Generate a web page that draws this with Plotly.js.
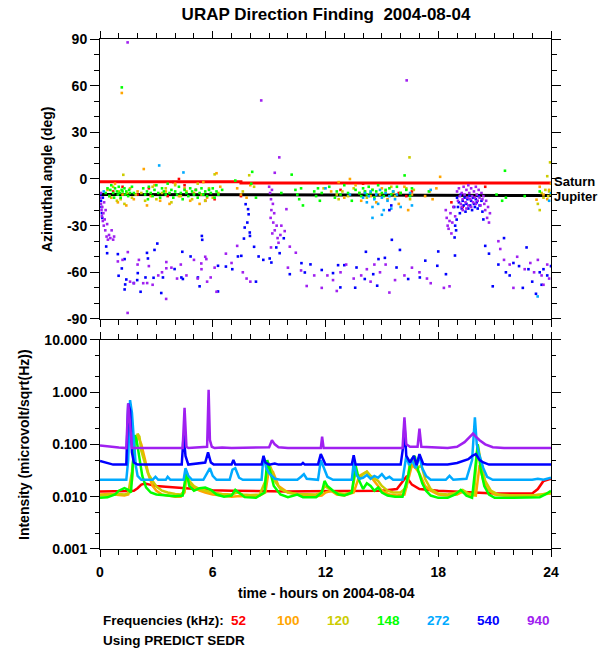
<!DOCTYPE html>
<html><head><meta charset="utf-8">
<script src="https://cdn.plot.ly/plotly-3.0.1.min.js"></script>
<style>html,body{margin:0;padding:0;background:#fff}#plot{width:600px;height:650px}</style>
</head><body><div id="plot"></div>
<script>
// ---------- data ----------
const freqLabels = ['52','100','120','148','272','540','940'];
const freqColors = ['#ff0000','#ffa500','#cccc00','#00ff00','#00aaff','#0000ff','#a020f0'];

const hourTicks = [0,6,12,18,24];
const angleTicks = [-90,-60,-30,0,30,60,90];
const intTicks = [0.001,0.01,0.1,1,10];
const intTickText = ['0.001','0.010','0.100','1.000','10.000'];
const intMinor = [0.002,0.005,0.02,0.05,0.2,0.5,2,5];

const saturnLine = [[0,-1.7],[7.5,-1.7],[7.5,-2.6],[24,-2.6]];
const jupiterLine = [[0,-9.9],[12,-10.1],[24,-10.6]];

// azimuth points [hour, deg]
const az52 = [[0.7,-8],[1.2,-5],[2.0,-10],[2.6,-6],[3.6,-11],[4.5,-4],[5.1,-7],[5.6,-14],[6.1,-13],[3.9,-2],[4.2,0],[7.5,-11],[12.8,-7],[14.0,-3],[15.9,-9],[16.3,-11],[16.6,-8],[18.7,-15],[19.3,-18],[20.5,-5]];
const az100 = [[0.4,-7],[0.6,-12],[0.8,-3],[0.95,-15],[1.16,55.3],[1.2,-10],[1.4,-17],[1.6,-6],[1.8,-13],[2.0,-8],[2.33,6.4],[2.5,-17],[2.7,-11],[2.9,-4],[3.2,-14],[3.5,-8],[3.7,-16],[4.0,-3],[4.2,-11],[4.5,-6],[4.8,-14],[5.0,-9],[5.3,-16],[5.5,-2],[5.7,-12],[6.2,3.7],[6.4,-5],[7.3,-6],[7.5,-10],[7.8,-12],[8.0,-4],[12.3,-8],[12.7,-2],[13.0,-12],[13.3,0],[13.6,-4],[13.9,-14],[14.1,-8],[14.4,-11],[14.7,-15],[15.0,-6],[15.3,-13],[15.6,-9],[15.9,-16],[16.2,-5],[16.4,-20],[16.6,-10],[17.3,-11],[17.55,-8],[17.7,-13],[18.1,1.4],[17.9,-6],[23.23,-13.3],[23.4,-5],[23.6,-10],[23.8,-13],[23.9,-7],[24.0,-3]];
const az120 = [[0.5,-11],[0.7,-5],[0.9,-14],[1.0,-8],[1.1,-13],[1.24,2.7],[1.3,-16],[1.45,-9],[1.7,-12],[1.9,-10],[2.2,-9],[2.4,-14],[2.8,-5],[3.0,-13],[3.3,-9],[3.5,-6],[3.8,-15],[4.0,-4],[4.3,-11],[4.6,-8],[4.9,-13],[5.2,-3],[5.4,-10],[5.6,-14],[5.8,-6],[6.1,3],[6.0,-12],[6.3,-9],[7.6,-8],[7.94,2.4],[8.2,-5],[11.9,-6],[12.6,-10],[12.7,-13],[12.9,-8],[13.2,-11],[13.5,-6],[13.8,-9],[14.2,-12],[14.5,-7],[14.9,-10],[15.2,-8],[15.5,-5],[15.7,-11],[16.0,-9],[16.3,-6],[16.47,13.9],[16.5,-13],[16.7,-7],[23.3,-16],[23.5,-9],[23.6,-12],[23.7,-7],[23.8,1.8],[23.85,-11],[23.9,-8],[23.95,10.7],[24.0,-10],[23.4,-20]];
const az148 = [[0.3,-9],[0.4,-6],[0.5,-11],[0.55,-7],[0.6,-4],[0.7,-9],[0.75,-12],[0.8,-6],[0.9,-8],[0.95,-10],[1.0,-5],[1.05,-9],[1.1,-12],[1.15,-7],[1.2,-8],[1.16,58.9],[1.3,-6],[1.35,-10],[1.4,-8],[1.5,-11],[1.55,-7],[1.6,-9],[1.7,-5],[1.8,-9],[2.3,-6],[2.4,-10],[2.5,-8],[2.55,-13],[2.6,-5],[2.7,-9],[2.8,-11],[2.9,-7],[3.0,-4],[3.1,-9],[3.2,-12],[3.3,-6],[3.4,-8],[3.5,-10],[3.6,-3],[3.7,-9],[3.8,-7],[3.9,-12],[4.0,-8],[4.1,-10],[4.2,-5],[4.3,-9],[4.4,-13],[4.5,-7],[4.6,-9],[4.7,-11],[4.8,-6],[4.9,-8],[5.0,-10],[5.1,-7],[5.2,-12],[5.3,-9],[5.4,-6],[5.5,-10],[5.6,-8],[5.7,-11],[5.8,-7],[5.9,-9],[6.0,-6],[6.1,-12],[6.2,-8],[6.3,-10],[6.5,-7],[7.2,-1],[8.1,4.6],[8.05,-3],[8.3,-12],[9.65,-9],[10.2,2.8],[10.4,-7],[10.5,-10],[10.6,-13],[10.7,-6],[10.8,-17],[11.4,-8],[11.5,-11],[11.6,-6],[11.7,-14],[11.8,-9],[12.2,-5],[12.5,-12],[12.6,-8],[12.8,-10],[13.0,-4],[13.2,-9],[13.4,-14],[13.6,-7],[13.8,-9],[13.9,-11],[14.0,-6],[14.1,-8],[14.2,-10],[14.3,-5],[14.4,-9],[14.5,-7],[14.6,-12],[14.7,-8],[14.8,-4],[15.0,-9],[15.1,-11],[15.2,-7],[15.4,-6],[15.5,-10],[15.6,-8],[15.8,-5],[16.0,-9],[16.21,2.3],[16.3,-7],[16.5,-11],[16.6,-6],[17.5,-8],[21.1,-10],[21.4,-14],[21.55,5.3],[21.6,-12],[22.6,-11],[23.4,-8]];
const az272 = [[3.15,8.7],[4.44,4.2],[0.2,-8],[12.0,-6],[13.3,-10],[14.0,-12],[14.1,-9],[14.2,-15],[14.3,-11],[14.4,-8],[14.5,-18],[14.6,-13],[14.7,-10],[14.8,-16],[14.9,-7],[15.0,-12],[15.1,-20],[15.2,-9],[15.3,-14],[15.4,-11],[15.5,-19],[15.6,-8],[15.7,-13],[15.8,-10],[15.0,-23],[14.5,-25],[16.0,-18],[16.5,-9],[16.6,-17],[17.6,-7],[23.29,-75.5],[23.9,-14],[24.0,-9]];
const az540 = [[0.02,-10],[0.05,-14],[0.08,-18],[0.1,-22],[0.12,-25],[0.15,-12],[0.33,-43.4],[0.38,-47.7],[0.95,-48.3],[1.31,-51.5],[1.16,-57.5],[0.99,-62.2],[1.4,-64.6],[1.34,-67.8],[1.31,-71],[1.8,-66.9],[2.16,-72.5],[2.01,-60.5],[2.55,-51.1],[2.9,-45.6],[3.05,-41.5],[2.5,-47.5],[2.85,-63.5],[3.26,-73.3],[3.97,-57.9],[4.38,-46.8],[4.41,-64.3],[4.82,-49.8],[5.44,-39.1],[5.42,-36.6],[5.21,-63.3],[6.28,-72.3],[6.7,-56.3],[6.28,-55.8],[7.04,-58],[7.34,-49.8],[7.52,-49.4],[7.66,-38.3],[7.7,-31.2],[7.84,-28],[7.91,-22.7],[7.75,-16.2],[7.88,-19.4],[7.97,-34.4],[7.98,-36.6],[8.2,-43.6],[8.44,-49.8],[8.69,-52],[9.12,-53.7],[9.03,-51.1],[9.38,-44],[8.3,-66],[5.3,-69],[4.33,-63.3],[3.35,-63.3],[2.42,-63.3],[1.98,-65],[9.56,-47.7],[9.78,-38.1],[10.1,-61.2],[10.72,-54.1],[10.9,-60.1],[11.2,-54.9],[11.8,-58.5],[12.4,-60.5],[12.67,-55.4],[12.79,-69.7],[13.0,-55.4],[13.58,-69.9],[13.65,-56.9],[14.09,-64.3],[14.15,-46.8],[14.54,-61.2],[14.75,-68.6],[14.82,-51.5],[15.16,-50.7],[15.53,-39.1],[15.78,-56.9],[15.96,-45.6],[16.4,-64.3],[17.02,-63.3],[17.31,-52.5],[17.95,-55.8],[18.0,-46.6],[18.41,-61.2],[18.89,-49.2],[18.87,-37.6],[18.98,-26.1],[15.4,-20],[15.5,-17],[19.0,-12],[19.05,-18],[19.1,-15],[19.15,-22],[19.2,-10],[19.25,-19],[19.3,-14],[19.35,-17],[19.4,-12],[19.45,-21],[19.5,-16],[19.55,-13],[19.6,-19],[19.65,-11],[19.7,-17],[19.75,-14],[19.8,-20],[19.85,-12],[19.9,-16],[19.95,-18],[20.0,-13],[20.05,-15],[20.1,-19],[20.15,-11],[20.2,-17],[20.3,-14],[20.35,-21],[20.4,-26],[18.85,-18],[18.9,-30],[18.95,-33],[20.5,-43],[20.7,-48],[20.9,-69],[21.2,-55],[21.5,-38],[21.6,-60],[21.8,-62],[22.0,-54],[22.3,-56],[22.5,-70],[22.7,-44],[23.0,-66],[23.2,-73.8],[23.4,-60],[23.6,-58],[23.8,-62],[24.0,-56],[22.8,-58],[23.5,-68]];
const az940 = [[1.47,87.8],[1.47,-86.1],[8.58,50.5],[16.32,63.4],[9.54,13.9],[0.02,-12],[0.05,-16],[0.08,-20],[0.1,-24],[0.12,-18],[0.15,-27],[0.18,-22],[0.2,-30],[0.22,-15],[0.25,-26],[0.28,-33],[0.3,-20],[0.35,-37],[0.38,-29],[0.42,-39],[0.48,-36],[0.55,-38],[0.62,-33],[0.7,-39],[0.75,-37],[0.05,-9],[1.2,-52],[1.6,-66],[1.8,-67],[2.3,-67],[2.6,-56],[3.1,-62],[3.3,-60],[3.52,-77.1],[3.8,-57],[4.1,-64],[4.3,-55],[5.0,-52],[5.2,-64],[5.4,-58],[5.6,-50],[6.1,-57],[6.7,-48],[7.0,-54],[7.6,-60],[7.8,-64],[8.0,-66],[7.3,-43],[2.0,-55],[2.8,-68],[4.6,-62],[5.7,-66],[1.48,-47],[2.07,-52],[0.95,-53],[3.53,-53.4],[3.53,-57.4],[2.51,-66.9],[5.39,-54.3],[5.66,-51.5],[5.89,-63.3],[6.2,-72.5],[9.0,-5],[9.05,-9],[9.1,-13],[9.15,-7],[9.2,-16],[9.12,-20],[9.08,-25],[9.22,-28],[9.27,-22],[9.3,-33],[9.17,-35],[9.4,-30],[9.45,-38],[9.5,-41],[9.6,-36],[9.3,4],[9.65,-30],[9.83,-33.5],[9.92,-19.4],[9.1,-44],[10.1,-43.5],[10.42,-47.4],[10.0,-57],[10.7,-58.8],[11.0,-68.8],[11.4,-62],[11.8,-70],[12.1,-62],[12.4,-65],[12.8,-60],[13.1,-55],[13.5,-64],[13.9,-62],[14.2,-58],[14.4,-66],[14.9,-60],[15.2,-55],[15.7,-65],[16.2,-62],[16.6,-57],[17.0,-60],[17.4,-64],[17.6,-67],[18.3,-70],[18.6,-69],[12.6,-72],[15.4,-73],[14.6,-55],[18.4,-20],[18.45,-25],[18.5,-30],[18.55,-32],[18.6,-27],[18.65,-22],[18.7,-35],[18.75,-28],[18.8,-18],[18.9,-24],[19.0,-8],[19.05,-14],[19.1,-6],[19.15,-11],[19.2,-16],[19.25,-9],[19.3,-13],[19.35,-5],[19.4,-10],[19.45,-15],[19.5,-7],[19.55,-12],[19.6,-17],[19.65,-9],[19.7,-13],[19.75,-6],[19.8,-11],[19.85,-15],[19.9,-8],[19.95,-12],[20.0,-16],[20.05,-10],[20.1,-14],[20.15,-7],[20.2,-12],[20.25,-17],[20.3,-9],[20.35,-13],[20.4,-11],[20.45,-16],[20.5,-20],[20.55,-14],[20.6,-25],[20.65,-18],[20.7,-28],[20.75,-22],[19.25,-18],[19.5,-19],[19.75,-18],[20.0,-5],[19.6,-4],[19.3,-20],[21.2,-40],[21.3,-45],[21.5,-52],[21.8,-55],[22.0,-70],[22.2,-50],[22.6,-58],[22.9,-54],[23.1,-60],[23.3,-52],[23.5,-62],[23.6,-68],[23.8,-55],[23.9,-64]];

// intensity series [hour, microvolt/sqrt(Hz)]
const int52 = [[0,0.0125],[0.5,0.0125],[1.0,0.0125],[1.5,0.0128],[1.8,0.013],[2.0,0.0145],[2.2,0.017],[2.4,0.0178],[2.7,0.0168],[3.0,0.016],[3.5,0.0155],[4.0,0.015],[4.5,0.0142],[5.0,0.014],[6.0,0.0133],[7.0,0.013],[8.0,0.0128],[9.0,0.0127],[10.0,0.0126],[11.0,0.0127],[12.0,0.0127],[13.0,0.0128],[14.0,0.0128],[15.0,0.013],[15.8,0.014],[16.1,0.019],[16.3,0.024],[16.6,0.017],[17.0,0.014],[18.0,0.013],[19.0,0.0125],[20.0,0.012],[21.0,0.0115],[22.0,0.0115],[23.0,0.0115],[23.3,0.014],[23.6,0.02],[24,0.022]];
const int100 = [[0,0.011],[0.5,0.0112],[1.0,0.0108],[1.3,0.0105],[1.5,0.011],[1.7,0.02],[1.8,0.06],[1.9,0.12],[2.0,0.15],[2.2,0.1],[2.4,0.05],[2.6,0.025],[2.8,0.016],[3.0,0.013],[3.3,0.011],[3.6,0.0105],[4.0,0.01],[4.3,0.01],[4.5,0.012],[4.6,0.025],[4.8,0.018],[5.0,0.015],[5.3,0.013],[5.6,0.012],[6.0,0.011],[6.5,0.0105],[7.0,0.01],[7.3,0.0102],[7.6,0.0103],[8.0,0.01],[8.5,0.0105],[8.8,0.012],[9.0,0.035],[9.2,0.03],[9.5,0.016],[10.0,0.012],[10.5,0.011],[11.0,0.0103],[11.5,0.0102],[11.8,0.0105],[12.0,0.012],[12.3,0.013],[12.6,0.011],[13.0,0.0105],[13.5,0.012],[13.8,0.025],[14.2,0.03],[14.6,0.02],[15.0,0.013],[15.4,0.011],[15.8,0.0105],[16.2,0.011],[16.6,0.04],[16.8,0.035],[17.0,0.028],[17.3,0.016],[17.6,0.013],[18.0,0.011],[18.5,0.0105],[19.0,0.011],[19.3,0.0125],[19.6,0.011],[20.0,0.0105],[20.2,0.04],[20.4,0.02],[20.6,0.014],[21.0,0.011],[21.5,0.0105],[22.0,0.0105],[23.0,0.0105],[23.5,0.011],[24,0.012]];
const int120 = [[0,0.0105],[0.5,0.011],[1.0,0.0112],[1.3,0.011],[1.5,0.0115],[1.7,0.03],[1.85,0.09],[2.0,0.16],[2.1,0.14],[2.2,0.075],[2.4,0.045],[2.55,0.028],[2.8,0.02],[3.0,0.0156],[3.3,0.013],[3.6,0.012],[4.0,0.0112],[4.3,0.011],[4.5,0.013],[4.6,0.03],[4.75,0.02],[5.0,0.016],[5.3,0.014],[5.6,0.013],[6.0,0.012],[6.5,0.0112],[7.0,0.011],[7.3,0.012],[7.6,0.011],[8.0,0.0108],[8.5,0.011],[8.8,0.02],[8.95,0.045],[9.1,0.035],[9.3,0.02],[9.6,0.014],[10.0,0.012],[10.5,0.0112],[11.0,0.011],[11.5,0.011],[11.8,0.012],[11.95,0.016],[12.2,0.014],[12.5,0.012],[13.0,0.0112],[13.4,0.012],[13.6,0.03],[13.8,0.022],[14.0,0.027],[14.2,0.03],[14.4,0.025],[14.6,0.022],[14.8,0.02],[15.0,0.016],[15.3,0.013],[15.6,0.012],[16.0,0.012],[16.3,0.015],[16.5,0.045],[16.7,0.05],[16.9,0.035],[17.1,0.04],[17.3,0.022],[17.6,0.014],[18.0,0.0115],[18.5,0.011],[19.0,0.012],[19.3,0.0135],[19.6,0.0115],[19.9,0.011],[20.1,0.1],[20.3,0.04],[20.5,0.02],[20.8,0.013],[21.2,0.011],[22,0.0105],[23,0.0105],[23.5,0.011],[24,0.0115]];
const int148 = [[0,0.0095],[0.4,0.0097],[0.8,0.011],[1.0,0.013],[1.3,0.0145],[1.5,0.0135],[1.65,0.012],[1.75,0.05],[1.85,0.15],[1.95,0.12],[2.1,0.05],[2.25,0.025],[2.45,0.015],[2.7,0.012],[3.0,0.011],[3.5,0.0105],[4.0,0.0102],[4.4,0.0105],[4.6,0.03],[4.75,0.016],[5.0,0.013],[5.3,0.0145],[5.6,0.015],[5.9,0.0135],[6.2,0.011],[6.6,0.01],[7.0,0.0105],[7.2,0.0135],[7.4,0.012],[7.7,0.0098],[8.3,0.0095],[8.75,0.012],[8.9,0.05],[9.05,0.03],[9.25,0.016],[9.6,0.011],[10.0,0.0098],[10.5,0.011],[10.8,0.0098],[11.5,0.0098],[11.8,0.012],[11.95,0.02],[12.1,0.016],[12.4,0.013],[12.7,0.011],[13.0,0.0105],[13.4,0.012],[13.6,0.04],[13.8,0.02],[14.0,0.014],[14.2,0.018],[14.4,0.016],[14.6,0.013],[14.8,0.015],[15.0,0.012],[15.3,0.0105],[15.7,0.01],[16.1,0.01],[16.4,0.025],[16.55,0.05],[16.75,0.06],[16.95,0.03],[17.15,0.018],[17.35,0.013],[17.6,0.0105],[18.0,0.0095],[18.5,0.0095],[18.9,0.011],[19.2,0.0135],[19.5,0.0105],[19.8,0.0095],[19.95,0.03],[20.1,0.1],[20.25,0.035],[20.45,0.016],[20.7,0.011],[21.0,0.0095],[22.0,0.0095],[23.0,0.0095],[23.4,0.0098],[23.7,0.011],[24,0.013]];
const int272 = [[0,0.021],[1.4,0.021],[1.5,0.05],[1.6,0.7],[1.7,0.4],[1.8,0.1],[1.9,0.04],[2.0,0.025],[2.2,0.021],[2.8,0.021],[2.95,0.024],[3.1,0.021],[3.5,0.021],[3.6,0.024],[3.75,0.021],[4.45,0.021],[4.55,0.035],[4.7,0.025],[4.9,0.021],[5.5,0.021],[5.7,0.028],[5.85,0.035],[6.0,0.025],[6.2,0.021],[6.9,0.021],[7.05,0.033],[7.2,0.035],[7.4,0.023],[7.6,0.021],[8.6,0.021],[8.7,0.06],[8.85,0.035],[9.0,0.028],[9.3,0.022],[9.6,0.021],[10.5,0.021],[10.7,0.024],[10.85,0.027],[11.0,0.022],[11.6,0.021],[11.75,0.05],[11.9,0.035],[12.1,0.024],[12.4,0.021],[13.4,0.021],[13.5,0.045],[13.65,0.026],[13.8,0.022],[14.0,0.023],[14.2,0.026],[14.4,0.022],[14.6,0.025],[14.8,0.023],[15.0,0.027],[15.2,0.022],[15.4,0.024],[15.6,0.021],[16.1,0.021],[16.3,0.06],[16.45,0.04],[16.6,0.05],[16.8,0.035],[17.0,0.06],[17.15,0.035],[17.35,0.025],[17.6,0.021],[18.4,0.021],[18.6,0.025],[18.8,0.021],[19.5,0.022],[19.8,0.05],[19.95,0.33],[20.05,0.1],[20.2,0.06],[20.4,0.035],[20.6,0.024],[20.9,0.021],[23.0,0.021],[23.3,0.022],[23.6,0.021],[24,0.023]];
const int540 = [[0,0.048],[0.2,0.046],[0.4,0.043],[0.7,0.041],[1.4,0.041],[1.45,0.2],[1.5,0.6],[1.6,0.45],[1.7,0.07],[1.8,0.045],[2.0,0.041],[3.5,0.041],[4.35,0.041],[4.45,0.15],[4.55,0.06],[4.7,0.041],[5.6,0.045],[5.75,0.07],[5.9,0.045],[6.05,0.041],[7.0,0.041],[7.1,0.05],[7.2,0.041],[8.6,0.041],[8.7,0.06],[8.8,0.045],[9.0,0.041],[9.3,0.043],[9.5,0.041],[10.7,0.041],[10.8,0.044],[10.9,0.041],[11.6,0.041],[11.75,0.065],[11.9,0.05],[12.0,0.041],[13.4,0.041],[13.5,0.062],[13.6,0.041],[16.0,0.041],[16.15,0.1],[16.2,0.25],[16.3,0.06],[16.5,0.045],[16.7,0.06],[16.85,0.04],[17.0,0.065],[17.2,0.042],[17.4,0.041],[18.5,0.041],[19.0,0.044],[19.3,0.048],[19.6,0.052],[19.8,0.06],[20.0,0.065],[20.2,0.05],[20.4,0.045],[20.7,0.041],[24,0.041]];
const int940 = [[0,0.095],[0.3,0.092],[0.6,0.09],[1.0,0.087],[1.4,0.085],[1.45,0.3],[1.5,0.6],[1.6,0.25],[1.7,0.085],[4.4,0.085],[4.45,0.2],[4.5,0.5],[4.6,0.09],[4.7,0.085],[5.7,0.09],[5.78,1.1],[5.85,0.12],[5.95,0.09],[6.1,0.085],[6.5,0.087],[7.0,0.085],[9.0,0.088],[9.15,0.12],[9.3,0.1],[9.5,0.088],[10.0,0.085],[11.75,0.085],[11.82,0.14],[11.9,0.085],[16.1,0.085],[16.2,0.33],[16.3,0.1],[16.5,0.09],[16.9,0.09],[17.0,0.2],[17.1,0.09],[18.5,0.085],[19.0,0.09],[19.4,0.11],[19.7,0.14],[19.85,0.16],[20.0,0.14],[20.2,0.12],[20.5,0.1],[20.9,0.088],[21.5,0.085],[24,0.085]];

const azSeries = [az52, az100, az120, az148, az272, az540, az940];
const intSeries = [int52, int100, int120, int148, int272, int540, int940];

// ---------- chart ----------
const FAM = '"Liberation Sans", Arial, Helvetica, sans-serif';
const F = {family: FAM, size: 14, color: '#000', weight: 'bold'};
const FS = {family: FAM, size: 13.5, color: '#000', weight: 'bold'};
const col = (arr, i) => arr.map(p => p[i]);

const traces = [];
traces.push({x: col(saturnLine,0), y: col(saturnLine,1), xaxis:'x2', yaxis:'y2', mode:'lines', line:{color:'#ff0000', width:3}, hoverinfo:'skip'});
traces.push({x: col(jupiterLine,0), y: col(jupiterLine,1), xaxis:'x2', yaxis:'y2', mode:'lines', line:{color:'#000000', width:3}, hoverinfo:'skip'});
azSeries.forEach((s, k) => traces.push({
  x: col(s,0), y: col(s,1), xaxis:'x2', yaxis:'y2', mode:'markers',
  marker:{symbol:'square', size:2.6, color:freqColors[k], line:{width:0}}, name: freqLabels[k]
}));
intSeries.forEach((s, k) => traces.push({
  x: col(s,0), y: col(s,1), xaxis:'x', yaxis:'y', mode:'lines',
  line:{color:freqColors[k], width:2.5}, name: freqLabels[k]
}));

const L = 100, R = 49, T = 39, B = 101, W = 600, H = 650;
const PW = W - L - R, PH = H - T - B;
const px2x = px => (px - L) / PW;
const py2y = py => (H - B - py) / PH;

const xBase = {
  range:[0,24], tickvals: hourTicks, ticktext: hourTicks.map(String),
  ticks:'outside', ticklen:7, tickwidth:1, tickcolor:'#000',
  showline:true, linecolor:'#000', linewidth:1, mirror:'allticks',
  showgrid:false, zeroline:false, tickfont: F,
  minor:{dtick:1, ticks:'outside', ticklen:5, tickwidth:1, tickcolor:'#000', showgrid:false}
};

const annotations = [
  {text:'Azimuthal angle (deg)', xref:'paper', yref:'paper', x:px2x(47), y:py2y(180), textangle:-90, showarrow:false, font:F, xanchor:'center', yanchor:'middle'},
  {text:'Intensity (microvolt/sqrt(Hz))', xref:'paper', yref:'paper', x:px2x(24), y:py2y(445), textangle:-90, showarrow:false, font:F, xanchor:'center', yanchor:'middle'},
  {text:'time - hours on 2004-08-04', xref:'paper', yref:'paper', x:px2x(326), y:py2y(593), showarrow:false, font:F, xanchor:'center', yanchor:'middle'},
  {text:'Frequencies (kHz):', xref:'paper', yref:'paper', x:px2x(101), y:py2y(620), showarrow:false, font:FS, xanchor:'left', yanchor:'middle'},
  {text:'Using PREDICT SEDR', xref:'paper', yref:'paper', x:px2x(101), y:py2y(640), showarrow:false, font:FS, xanchor:'left', yanchor:'middle'},
  {text:'Saturn', xref:'paper', yref:'paper', x:px2x(552), y:py2y(181), showarrow:false, font:{family:FAM, size:13, weight:'bold', color:'#000'}, xanchor:'left', yanchor:'middle'},
  {text:'Jupiter', xref:'paper', yref:'paper', x:px2x(552), y:py2y(196), showarrow:false, font:{family:FAM, size:13, weight:'bold', color:'#000'}, xanchor:'left', yanchor:'middle'}
];
freqLabels.forEach((f, k) => annotations.push({
  text:f, xref:'paper', yref:'paper', x:px2x(238 + 50*k), y:py2y(620), showarrow:false,
  font:{family:FAM, size:13.5, weight:'bold', color:freqColors[k]}, xanchor:'center', yanchor:'middle'
}));

const layout = {
  width:W, height:H, margin:{l:L, r:R, t:T, b:B, pad:0},
  paper_bgcolor:'#fff', plot_bgcolor:'#fff', showlegend:false, font:F,
  title:{text:'URAP Direction Finding \u00a02004-08-04', font:{family:FAM, size:17, weight:'bold', color:'#000'},
         xref:'paper', x:px2x(326), xanchor:'center', yref:'container', y:1-14/H, yanchor:'middle'},
  xaxis: Object.assign({}, xBase, {anchor:'y', ticklabelstandoff:3}),
  xaxis2: Object.assign({}, xBase, {anchor:'y2', showticklabels:false, matches:'x'}),
  yaxis: {
    type:'log', domain:[0,0.4104], range:[-3,1], anchor:'x',
    tickvals:intTicks, ticktext:intTickText, ticks:'outside', ticklen:9, tickwidth:1, tickcolor:'#000',
    showline:true, linecolor:'#000', linewidth:1, mirror:'allticks', showgrid:false, zeroline:false, tickfont:F,
    minor:{tickvals:intMinor, ticks:'outside', ticklen:4, tickwidth:1, tickcolor:'#000', showgrid:false}
  },
  yaxis2: {
    domain:[0.451,1], range:[-90,90], anchor:'x2',
    tickvals:angleTicks, ticktext:angleTicks.map(v => String(v)), ticks:'outside', ticklen:9, tickwidth:1, tickcolor:'#000',
    showline:true, linecolor:'#000', linewidth:1, mirror:'allticks', showgrid:false, zeroline:false, tickfont:F,
    minor:{dtick:10, ticks:'outside', ticklen:5, tickwidth:1, tickcolor:'#000', showgrid:false}
  },
  annotations: annotations
};

Plotly.newPlot('plot', traces, layout, {displayModeBar:false, staticPlot:true});
</script>
</body></html>
